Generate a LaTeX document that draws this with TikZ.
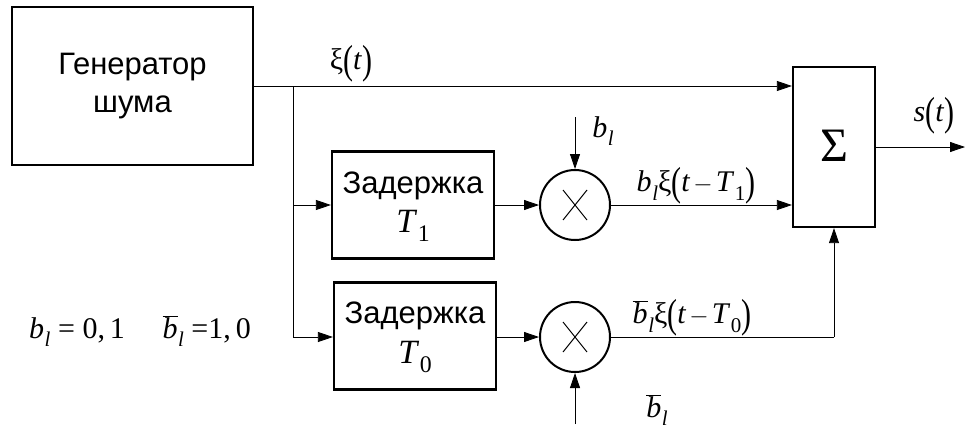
\documentclass[tikz,border=0pt]{standalone}
\usepackage{fontspec}
\setmainfont{Liberation Sans}
\newfontfamily\tms{Liberation Serif}
\usetikzlibrary{arrows.meta}
\newcommand\lpar{\raisebox{-0.13em}{\scalebox{1}[1.35]{(}}}
\newcommand\rpar{\raisebox{-0.13em}{\scalebox{1}[1.35]{)}}}
\newcommand\sbs[1]{\kern0.02em\raisebox{-0.28em}{\scalebox{0.7}{#1}}}
\newcommand\bsym{\textit{b}\sbs{\textit{l}}}
\newcommand\bbar{$\overline{\hbox{\textit{b}}}$\sbs{\textit{l}}}
\newcommand\mns{\kern0.1em$-$\kern0.1em}
\begin{document}
\begin{tikzpicture}[x=1pt,y=-1pt,
  blk/.style={draw, line width=2.2pt, inner sep=0pt, align=center},
  mult/.style={draw, circle, line width=2pt, minimum size=70pt, inner sep=0pt},
  conn/.style={line width=0.8pt},
  arr/.style={conn, -{Triangle[length=15pt,width=10pt]}},
  lab/.style={font=\tms\fontsize{30}{34}\selectfont, inner sep=0pt},
  cyr/.style={font=\fontsize{31}{38}\selectfont}]
\useasboundingbox (0,0) rectangle (965,429);
% blocks
\node[blk, cyr, minimum width=241pt, minimum height=158pt] (gen) at (132.5,86) {Генератор\\шума};
\node[blk, minimum width=162pt, minimum height=107pt] (d1) at (413,205) {};
\node[cyr, inner sep=0pt] (d1t) at (413,186) {Задержка};
\node[lab, font=\tms\fontsize{34}{38}\selectfont] (d1T) at (413,226) {\textit{T}\sbs{1}};
\node[blk, minimum width=162pt, minimum height=107pt] (d0) at (415,336) {};
\node[cyr, inner sep=0pt] (d0t) at (415,316) {Задержка};
\node[lab, font=\tms\fontsize{34}{38}\selectfont] (d0T) at (415,357) {\textit{T}\sbs{0}};
\node[mult] (m1) at (575,205) {};
\node[mult] (m0) at (575,337) {};
\draw[line width=1pt] ([shift={(-12,-15)}]m1.center) -- ([shift={(12,15)}]m1.center)
  ([shift={(-12,15)}]m1.center) -- ([shift={(12,-15)}]m1.center);
\draw[line width=1pt] ([shift={(-12,-15)}]m0.center) -- ([shift={(12,15)}]m0.center)
  ([shift={(-12,15)}]m0.center) -- ([shift={(12,-15)}]m0.center);
\node[blk, minimum width=82pt, minimum height=160pt] (sum) at (834,147) {};
\node[font=\tms\fontsize{48}{52}\selectfont, inner sep=0pt] (sig) at (834,146) {Σ};
% coordinates
\coordinate (j0) at (293,86);
\coordinate (j1) at (293,205);
\coordinate (j2) at (293,337);
\coordinate (bin) at (575,117);
\coordinate (bbin) at (575,424);
\coordinate (corner) at (834,337);
\coordinate (out) at (965,147);
% connectors
\draw[arr] (gen.east |- j0) -- (sum.west |- j0);
\draw[conn] (j0) -- (j2);
\draw[arr] (j1) -- (d1.west |- j1);
\draw[arr] (j2) -- (d0.west |- j2);
\draw[arr] (d1.east |- m1) -- (m1.west);
\draw[arr] (d0.east |- m0) -- (m0.west);
\draw[arr] (m1.east) -- (sum.west |- m1);
\draw[conn] (m0.east) -- (corner);
\draw[arr] (corner) -- (sum.south);
\draw[arr] (bin) -- (m1.north);
\draw[arr] (bbin) -- (m0.south);
\draw[arr] (sum.east |- out) -- (out);
% labels
\node[lab] (lxi) at (351,64) {ξ\lpar\textit{t}\rpar};
\node[lab] (lb) at (603,131) {\bsym};
\node[lab] (l1) at (696,186) {\bsym ξ\lpar\textit{t}\mns\textit{T}\sbs{1}\rpar};
\node[lab] (l0) at (692,318) {\bbar ξ\lpar\textit{t}\mns\textit{T}\sbs{0}\rpar};
\node[lab] (lbb) at (657,410) {\bbar};
\node[lab] (ls) at (934,116) {\textit{s}\lpar\textit{t}\rpar};
\node[lab] (lcond) at (140,331) {\bsym\ = 0,\,1\quad\ \bbar\ =1,\,0};
\end{tikzpicture}
\end{document}
